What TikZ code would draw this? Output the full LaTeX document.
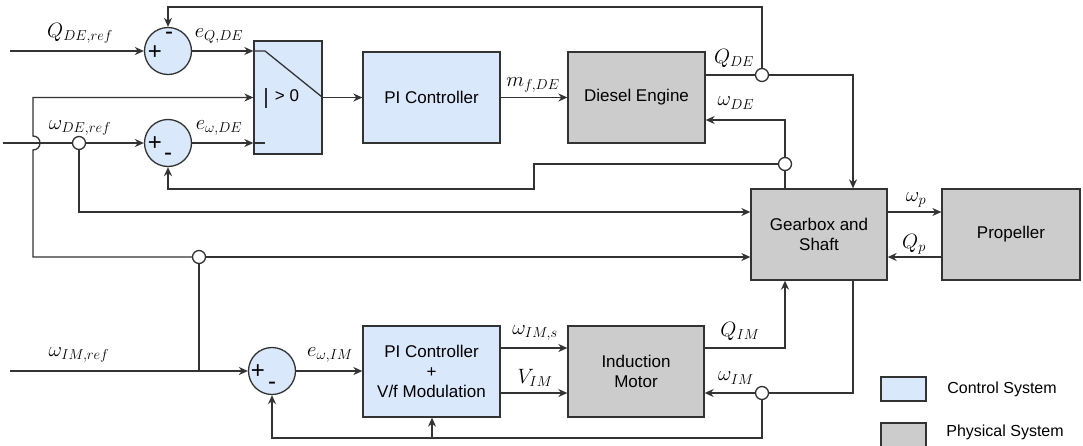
\documentclass[tikz,border=0pt]{standalone}
\usepackage{fontspec}
\setsansfont{Liberation Sans}
\usetikzlibrary{arrows.meta}
\definecolor{ctrl}{HTML}{DAE8FC}
\definecolor{phys}{HTML}{CCCCCC}
\definecolor{ln}{HTML}{333333}
\begin{document}
\begin{tikzpicture}[x=1pt,y=-1pt,
  wire/.style={draw=ln,line width=1.3pt},
  arr/.style={wire,-{Stealth[length=9pt,width=8pt]}},
  blk/.style={draw=ln,line width=1.3pt,inner sep=0pt,align=center,
    font=\sffamily\fontsize{17}{20}\selectfont},
  ctrlblk/.style={blk,fill=ctrl},
  physblk/.style={blk,fill=phys},
  sumnode/.style={circle,draw=ln,fill=ctrl,minimum size=47pt,inner sep=0pt,line width=1.3pt},
  jn/.style={circle,draw=ln,fill=white,minimum size=13pt,inner sep=0pt,line width=1.3pt},
  lab/.style={font=\fontsize{21}{24}\selectfont,inner sep=0pt},
  sgn/.style={font=\sffamily\fontsize{24}{24}\selectfont,inner sep=0pt},
  legtext/.style={font=\sffamily\fontsize{16}{20}\selectfont,inner sep=0pt}
]
\useasboundingbox (0,0) rectangle (1083,445);
\begin{scope}
\clip (0,0) rectangle (1083,445);
% blocks
\node[ctrlblk,minimum width=68pt,minimum height=113pt] (sw) at (288,97.5) {};
\node[ctrlblk,minimum width=137pt,minimum height=91pt] (pide) at (431.5,97.5) {PI Controller};
\node[physblk,minimum width=137pt,minimum height=91pt] (de) at (636.5,97.5) {Diesel Engine};
\node[physblk,minimum width=136pt,minimum height=91pt] (gb) at (819,234.5) {Gearbox and\\Shaft};
\node[physblk,minimum width=138pt,minimum height=91pt] (prop) at (1011,234.5) {Propeller};
\node[ctrlblk,minimum width=137pt,minimum height=91pt] (piim) at (431.5,371.5) {PI Controller\\+\\V/f Modulation};
\node[physblk,minimum width=136pt,minimum height=91pt] (im) at (636,371.5) {Induction\\Motor};
% sums
\node[sumnode] (sumQ) at (168,51) {};
\node[sumnode] (sumW) at (168,143) {};
\node[sumnode] (sumIM) at (272,371) {};
\node[sgn] (pQ) at (155,53) {+};
\node[sgn] (mQ) at (169,36) {-};
\node[sgn] (pW) at (155,144) {+};
\node[sgn] (mW) at (168,157) {-};
\node[sgn] (pIM) at (258,372) {+};
\node[sgn] (mIM) at (272,386) {-};
% junctions
\node[jn] (jQ) at (762,75) {};
\node[jn] (jW) at (785,164) {};
\node[jn] (jref) at (79,143) {};
\node[jn] (jmid) at (199,257) {};
\node[jn] (jim) at (762,393) {};
% switch internals
\coordinate (swin1) at (sumQ.east -| sw.west);
\coordinate (swin3) at (sumW.east -| sw.west);
\coordinate (swk1) at (265,51);
\coordinate (swk3) at (265,143);
\draw[wire] (swin1) -- (swk1) -- (sw.east);
\draw[wire] (swin3) -- (swk3);
\draw[wire] (266,88) -- (266,108);
\node[font=\sffamily\fontsize{17}{20}\selectfont,inner sep=0pt] (gt) at (287,96) {> 0};
% inputs
\coordinate (qref) at (10,51);
\coordinate (wref) at (3,143);
\coordinate (imref) at (10,371);
\draw[arr] (qref) -- (sumQ.west);
\node[lab] (lqref) at (80,33) {$Q_{DE,ref}$};
\draw[arr] (sumQ.east) -- (swin1);
\node[lab] (leq) at (219,36) {$e_{Q,DE}$};
\draw[wire] (wref) -- (jref.west);
\draw[arr] (jref.east) -- (sumW.west);
\node[lab] (lwref) at (80,128) {$\omega_{DE,ref}$};
\draw[arr] (sumW.east) -- (swin3);
\node[lab] (lew) at (219,128) {$e_{\omega,DE}$};
\draw[arr] (sw.east) -- (pide.west);
\draw[arr] (pide.east) -- (de.west);
\node[lab] (lmf) at (533,85) {$m_{f,DE}$};
% Q_DE
\draw[wire] (de.east |- jQ) -- (jQ.west);
\draw[arr] (jQ.east) -- (853,75) -- (gb.north -| 853,0);
\node[lab] (lqde) at (734,58) {$Q_{DE}$};
\draw[arr] (jQ.north) -- (762,7) -- (168,7) -- (sumQ.north);
% omega_DE
\draw[wire] (gb.north -| jW) -- (jW.south);
\draw[arr] (jW.north) -- (785,120) -- (de.east |- 0,120);
\node[lab] (lwde) at (736,103) {$\omega_{DE}$};
\draw[arr] (jW.west) -- (534,164) -- (534,189) -- (168,189) -- (sumW.south);
% reference to gearbox
\draw[arr] (jref.south) -- (79,212) -- (gb.west |- 0,212);
\draw[arr] (jmid.west) -- (33,257) -- (33,150) .. controls (42.3,150) and (42.3,136) .. (33,136) -- (33,97.5) -- (sw.west);
\draw[arr] (jmid.east) -- (gb.west |- jmid);
% IM part
\draw[arr] (imref) -- (sumIM.west);
\node[lab] (lwimref) at (79,355) {$\omega_{IM,ref}$};
\draw[wire] (199,371) -- (jmid.south);
\draw[arr] (sumIM.east) -- (piim.west |- sumIM);
\node[lab] (lewim) at (330,355) {$e_{\omega,IM}$};
\draw[arr] (piim.east |- 0,348) -- (im.west |- 0,348);
\node[lab] (lwims) at (535,333) {$\omega_{IM,s}$};
\draw[arr] (piim.east |- 0,393) -- (im.west |- 0,393);
\node[lab] (lvim) at (535,378) {$V_{IM}$};
\draw[arr] (im.east |- 0,348) -- (785,348) -- (gb.south -| 785,0);
\node[lab] (lqim) at (740,331) {$Q_{IM}$};
\draw[wire] (gb.south -| 853,0) -- (853,393) -- (jim.east);
\draw[arr] (jim.west) -- (im.east |- jim);
\node[lab] (lwim) at (736,378) {$\omega_{IM}$};
\draw[arr] (jim.south) -- (762,438) -- (272,438) -- (sumIM.south);
\draw[arr] (432,438) -- (piim.south -| 432,0);
% propeller
\draw[arr] (gb.east |- 0,212) -- (prop.west |- 0,212);
\node[lab] (lwp) at (916,200) {$\omega_p$};
\draw[arr] (prop.west |- 0,257) -- (gb.east |- 0,257);
\node[lab] (lqp) at (914,244) {$Q_p$};
% legend
\node[ctrlblk,minimum width=45pt,minimum height=24pt] (leg1) at (903.5,389) {};
\node[legtext] (leg1t) at (1002,389) {Control System};
\node[physblk,minimum width=45pt,minimum height=24pt] (leg2) at (903.5,435) {};
\node[legtext] (leg2t) at (1005,432) {Physical System};
\end{scope}
\end{tikzpicture}
\end{document}
